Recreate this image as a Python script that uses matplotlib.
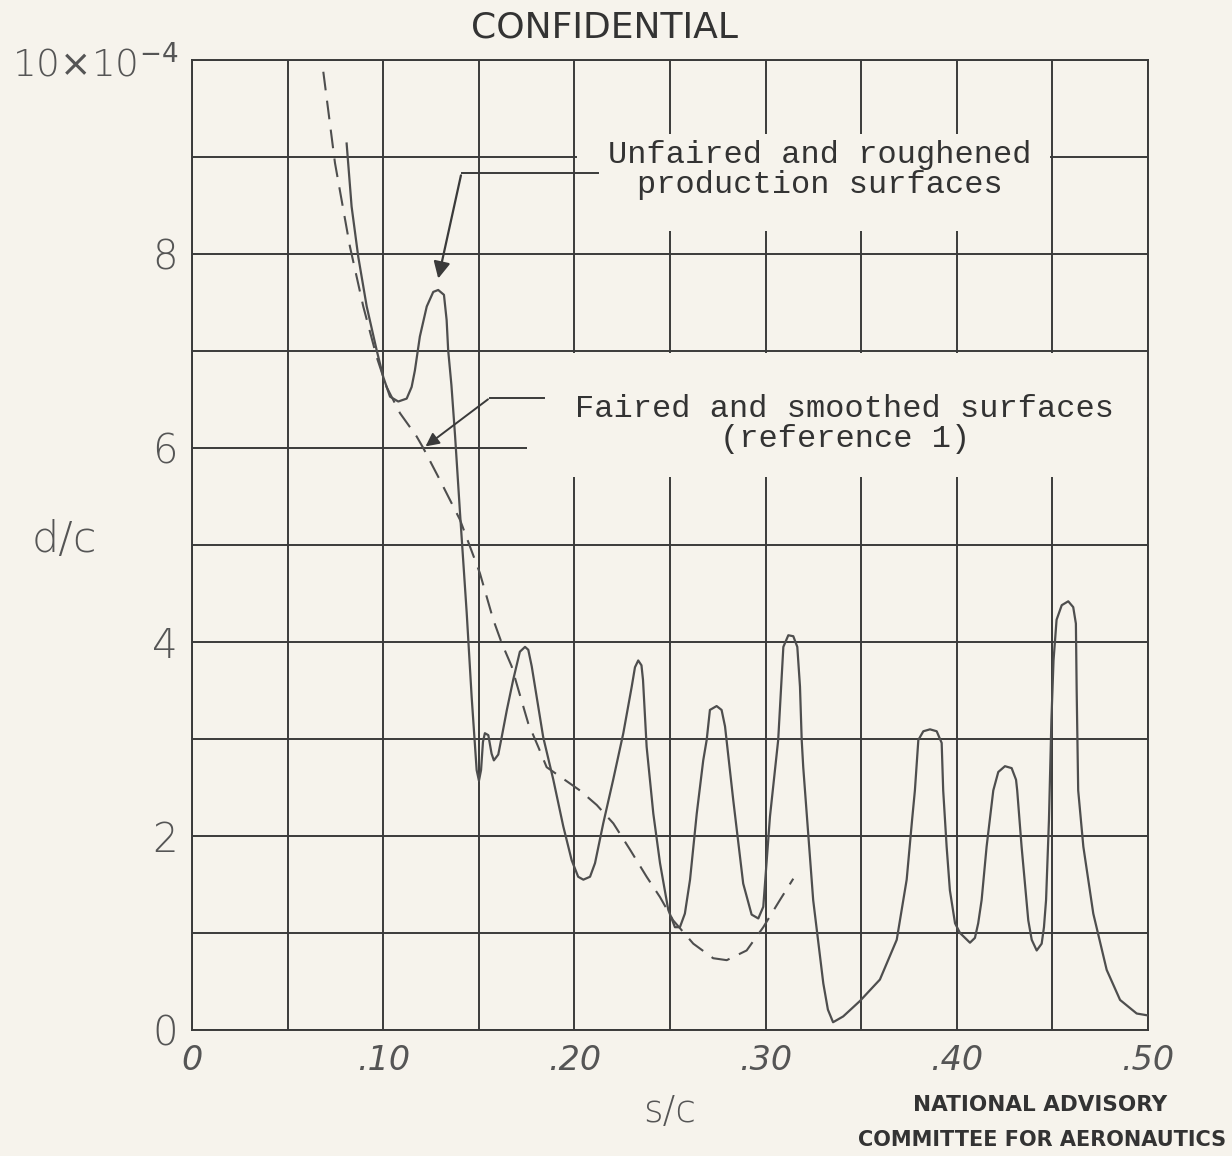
import matplotlib.pyplot as plt
from matplotlib.patches import Rectangle

# 数据
sc_rough = [0.0809, 0.0835, 0.0870, 0.0914, 0.0966, 0.1001, 0.1036, 0.1079, 0.1123, 0.1149,
            0.1166, 0.1192, 0.1228, 0.1262, 0.1288, 0.1318, 0.1332, 0.1340, 0.1357, 0.1376,
            0.1402, 0.1437, 0.1463, 0.1489, 0.1501, 0.1512, 0.1522, 0.1532, 0.1550, 0.1567,
            0.1579, 0.1602, 0.1620, 0.1647, 0.1680, 0.1715, 0.1742, 0.1759, 0.1777, 0.1837,
            0.1890, 0.1942, 0.1986, 0.2020, 0.2047, 0.2082, 0.2108, 0.2151, 0.2203, 0.2256,
            0.2300, 0.2317, 0.2334, 0.2351, 0.2359, 0.2378, 0.2413, 0.2448, 0.2491, 0.2526,
            0.2552, 0.2578, 0.2605, 0.2640, 0.2674, 0.2692, 0.2709, 0.2744, 0.2770, 0.2788,
            0.2831, 0.2883, 0.2927, 0.2962, 0.2988, 0.3023, 0.3066, 0.3093, 0.3119, 0.3145,
            0.3166, 0.3180, 0.3189, 0.3197, 0.3249, 0.3302, 0.3326, 0.3353, 0.3406, 0.3494,
            0.3598, 0.3686, 0.3738, 0.3766, 0.3781, 0.3799, 0.3825, 0.3860, 0.3895, 0.3921,
            0.3929, 0.3947, 0.3964, 0.3991, 0.4017, 0.4069, 0.4095, 0.4112, 0.4130, 0.4156,
            0.4191, 0.4217, 0.4252, 0.4287, 0.4310, 0.4316, 0.4339, 0.4374, 0.4392, 0.4418,
            0.4444, 0.4456, 0.4467, 0.4482, 0.4495, 0.4506, 0.4522, 0.4549, 0.4583, 0.4609,
            0.4623, 0.4627, 0.4635, 0.4662, 0.4714, 0.4784, 0.4854, 0.4941, 0.5000]
dc_rough = [9.14, 8.49, 7.97, 7.46, 7.01, 6.73, 6.53, 6.48, 6.51, 6.63,
            6.80, 7.15, 7.46, 7.61, 7.63, 7.58, 7.32, 7.01, 6.65, 6.13,
            5.33, 4.30, 3.43, 2.68, 2.57, 2.68, 2.97, 3.06, 3.04, 2.85,
            2.78, 2.84, 3.02, 3.30, 3.61, 3.90, 3.95, 3.92, 3.75, 3.02,
            2.58, 2.10, 1.75, 1.58, 1.55, 1.58, 1.72, 2.13, 2.58, 3.06,
            3.54, 3.74, 3.81, 3.76, 3.61, 2.92, 2.23, 1.72, 1.24, 1.06,
            1.06, 1.20, 1.55, 2.23, 2.78, 2.99, 3.30, 3.34, 3.30, 3.13,
            2.37, 1.51, 1.19, 1.15, 1.27, 2.20, 2.99, 3.95, 4.07, 4.06,
            3.95, 3.54, 2.99, 2.71, 1.34, 0.48, 0.21, 0.08, 0.14, 0.30,
            0.52, 0.93, 1.55, 2.16, 2.47, 2.99, 3.08, 3.10, 3.08, 2.96,
            2.47, 1.89, 1.44, 1.10, 1.00, 0.90, 0.95, 1.10, 1.34, 1.89,
            2.47, 2.66, 2.72, 2.70, 2.58, 2.47, 1.89, 1.13, 0.93, 0.82,
            0.89, 1.06, 1.34, 2.16, 3.20, 3.81, 4.23, 4.38, 4.42, 4.36,
            4.19, 3.51, 2.47, 1.89, 1.20, 0.62, 0.31, 0.17, 0.15]

sc_smooth = [0.0687, 0.0748, 0.0826, 0.0896, 0.0966, 0.1018, 0.1088, 0.1175, 0.1210, 0.1297,
             0.1402, 0.1506, 0.1576, 0.1620, 0.1672, 0.1707, 0.1759, 0.1811, 0.1855, 0.1942,
             0.2029, 0.2117, 0.2204, 0.2291, 0.2378, 0.2448, 0.2517, 0.2622, 0.2726, 0.2797,
             0.2901, 0.2988, 0.3075, 0.3145]
dc_smooth = [9.88, 8.94, 8.08, 7.46, 6.94, 6.63, 6.36, 6.12, 6.00, 5.67,
             5.26, 4.71, 4.23, 3.99, 3.75, 3.51, 3.16, 2.92, 2.71, 2.59,
             2.47, 2.32, 2.13, 1.86, 1.58, 1.37, 1.13, 0.89, 0.74, 0.72,
             0.82, 1.06, 1.34, 1.56]

x_ticks = [0, 0.10, 0.20, 0.30, 0.40, 0.50]
x_labels = ['0', '.10', '.20', '.30', '.40', '.50']
y_ticks = [0, 2, 4, 6, 8, 10]
y_labels = ['0', '2', '4', '6', '8', r'10$\times$10$^{-4}$']

paper = '#f6f3ec'
ink = '#3a3a3a'

fig = plt.figure(figsize=(12.32, 11.56), dpi=100, facecolor=paper)
ax = fig.add_axes([0.1558, 0.109, 0.7760, 0.839], facecolor=paper)
ax.set_xlim(0, 0.5)
ax.set_ylim(0, 10)

# 刻度 + 网格 (每 0.05 和每 1)
ax.set_xticks(x_ticks)
ax.set_xticklabels(x_labels, fontsize=24, style='italic', color='#555555', fontweight='light')
ax.set_yticks(y_ticks)
ax.set_yticklabels(y_labels, fontsize=29, color='#555555', fontweight='light')
ax.get_yticklabels()[-1].set_fontsize(27)
ax.set_xticks([0.05, 0.15, 0.25, 0.35, 0.45], minor=True)
ax.set_yticks([1, 3, 5, 7, 9], minor=True)
ax.grid(which='both', color=ink, lw=1.4, zorder=1)
ax.set_axisbelow(True)
ax.tick_params(which='both', length=0)
ax.tick_params(axis='x', pad=10)
ax.tick_params(axis='y', pad=10)
for s in ax.spines.values():
    s.set_color(ink)
    s.set_linewidth(1.4)
    s.set_zorder(3)

# 文字后面的空白 (网格断开)
ax.add_patch(Rectangle((0.2015, 8.24), 0.247, 1.0, facecolor=paper, edgecolor='none', zorder=2))
ax.add_patch(Rectangle((0.1752, 5.70), 0.3248, 1.285, facecolor=paper, edgecolor='none', zorder=2))

# 曲线
ax.plot(sc_rough, dc_rough, color='#4e4e4e', lw=1.6, zorder=4, solid_joinstyle='round')
ax.plot(sc_smooth, dc_smooth, color='#4e4e4e', lw=1.5, dashes=(9, 5), zorder=4)

ax.set_xlabel('s/c', fontsize=27, color='#555555', fontweight='light', labelpad=12)
ax.set_ylabel('d/c', fontsize=31, color='#555555', fontweight='light', rotation=0)
ax.yaxis.set_label_coords(-0.133, 0.485)

# 备注
mono = 'Liberation Mono'
ax.text(0.3285, 8.87, 'Unfaired and roughened\nproduction surfaces', family=mono,
        fontsize=23, color='#333333', ha='center', va='center', linespacing=1.0, zorder=5)
ax.text(0.3415, 6.25, 'Faired and smoothed surfaces\n(reference 1)', family=mono,
        fontsize=23, color='#333333', ha='center', va='center', linespacing=1.0, zorder=5)

ax.plot([0.141, 0.2125], [8.84, 8.84], color=ink, lw=1.4, zorder=5)
ax.annotate('', xy=(0.1285, 7.72), xytext=(0.141, 8.84),
            arrowprops=dict(arrowstyle='-|>', color=ink, lw=1.6, mutation_scale=25), zorder=5)
ax.plot([0.156, 0.184], [6.52, 6.52], color=ink, lw=1.4, zorder=5)
ax.annotate('', xy=(0.121, 6.0), xytext=(0.156, 6.52),
            arrowprops=dict(arrowstyle='-|>', color=ink, lw=1.4, mutation_scale=20), zorder=5)

fig.text(0.491, 0.976, 'CONFIDENTIAL', fontsize=26, color='#333333', ha='center', va='center',
         fontweight='medium')
fig.text(0.844, 0.044, 'NATIONAL ADVISORY', fontsize=15.5, color='#333333',
         ha='center', va='center', fontweight='semibold')
fig.text(0.846, 0.014, 'COMMITTEE FOR AERONAUTICS', fontsize=15, color='#333333',
         ha='center', va='center', fontweight='semibold')

fig.savefig('out.png', dpi=100, facecolor=paper)
